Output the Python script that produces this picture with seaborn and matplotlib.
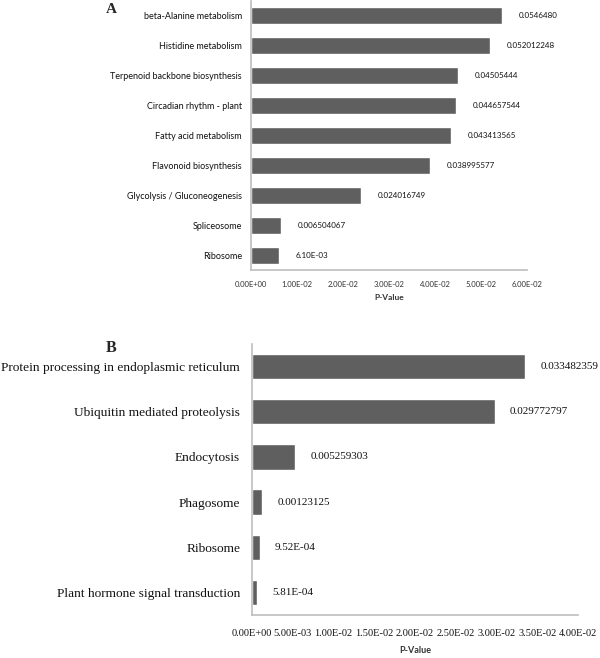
import numpy as np
import pandas as pd
import matplotlib
matplotlib.use("Agg")
import matplotlib.pyplot as plt
import seaborn as sns
from matplotlib.ticker import FuncFormatter, MultipleLocator

# panel A data
a_pathways = ["beta-Alanine metabolism", "Histidine metabolism", "Terpenoid backbone biosynthesis",
              "Circadian rhythm - plant", "Fatty acid metabolism", "Flavonoid biosynthesis",
              "Glycolysis / Gluconeogenesis", "Spliceosome", "Ribosome"]
a_pvalues = [0.054648, 0.052012248, 0.04505444, 0.044657544, 0.043413565,
             0.038995577, 0.024016749, 0.006504067, 0.0061]
a_labels = ["0.0546480", "0.052012248", "0.04505444", "0.044657544", "0.043413565",
            "0.038995577", "0.024016749", "0.006504067", "6.10E-03"]

# panel B data
b_pathways = ["Protein processing in endoplasmic reticulum", "Ubiquitin mediated proteolysis",
              "Endocytosis", "Phagosome", "Ribosome", "Plant hormone signal transduction"]
b_pvalues = [0.033482359, 0.029772797, 0.005259303, 0.00123125, 0.000952, 0.000581]
b_labels = ["0.033482359", "0.029772797", "0.005259303", "0.00123125", "9.52E-04", "5.81E-04"]

df_a = pd.DataFrame({"pathway": a_pathways, "pvalue": a_pvalues})
df_b = pd.DataFrame({"pathway": b_pathways, "pvalue": b_pvalues})

sns.set_theme(style="white")
bar_color = "#5f5f5f"
axis_color = "#bdbdbd"
sans = ["Lato", "DejaVu Sans"]
serif = ["Liberation Serif", "DejaVu Serif"]

fig = plt.figure(figsize=(6, 6.58), dpi=100)
sci = FuncFormatter(lambda v, p: "%.2E" % v)

#panel A
ax1 = fig.add_axes([0.4183, 0.5897, 0.4600, 0.4088])
sns.barplot(x="pvalue", y="pathway", data=df_a, color=bar_color, width=0.57,
            saturation=1, ax=ax1)
ax1.set_ylim(len(a_pathways) - 0.5, -0.5)
ax1.set_xlim(0, 0.06)
ax1.xaxis.set_major_locator(MultipleLocator(0.01))
ax1.xaxis.set_major_formatter(sci)
ax1.tick_params(axis="x", length=0, pad=8, labelsize=5.5)
ax1.tick_params(axis="y", length=0, pad=6.5, labelsize=6.5)
for t in ax1.get_xticklabels():
    t.set_family(sans)
    t.set_color("#333333")
for t in ax1.get_yticklabels():
    t.set_family(sans)
    t.set_color("#111111")
ax1.set_ylabel(None)
ax1.set_xlabel("P-Value", fontsize=6, fontweight="bold", family=sans, labelpad=4, color="#333333")
for s in ["top", "right"]:
    ax1.spines[s].set_visible(False)
for s in ["left", "bottom"]:
    ax1.spines[s].set_color(axis_color)
    ax1.spines[s].set_linewidth(1.2)
ax1.bar_label(ax1.containers[0], labels=a_labels, padding=12, fontsize=5.8, family=sans, color="#111111")
fig.text(0.185, 0.986, "A", fontsize=11, fontweight="bold", family=serif, ha="center", va="center")

#panel B
ax2 = fig.add_axes([0.42, 0.0653, 0.5433, 0.4119])
sns.barplot(x="pvalue", y="pathway", data=df_b, color=bar_color, width=0.56,
            saturation=1, ax=ax2)
ax2.set_ylim(len(b_pathways) - 0.5, -0.5)
ax2.set_xlim(0, 0.04)
ax2.xaxis.set_major_locator(MultipleLocator(0.005))
ax2.xaxis.set_major_formatter(sci)
ax2.tick_params(axis="x", length=0, pad=10, labelsize=7.5)
ax2.tick_params(axis="y", length=0, pad=8.5, labelsize=9.6)
for t in ax2.get_xticklabels():
    t.set_family(serif)
    t.set_color("#111111")
for t in ax2.get_yticklabels():
    t.set_family(serif)
    t.set_color("#111111")
ax2.set_ylabel(None)
ax2.set_xlabel("P-Value", fontsize=6.5, fontweight="bold", family=sans, labelpad=6, color="#333333")
for s in ["top", "right"]:
    ax2.spines[s].set_visible(False)
for s in ["left", "bottom"]:
    ax2.spines[s].set_color(axis_color)
    ax2.spines[s].set_linewidth(1.2)
ax2.bar_label(ax2.containers[0], labels=b_labels, padding=11, fontsize=8, family=serif, color="#111111")
fig.text(0.185, 0.471, "B", fontsize=11.5, fontweight="bold", family=serif, ha="center", va="center")

fig.savefig("out.png", dpi=100)
